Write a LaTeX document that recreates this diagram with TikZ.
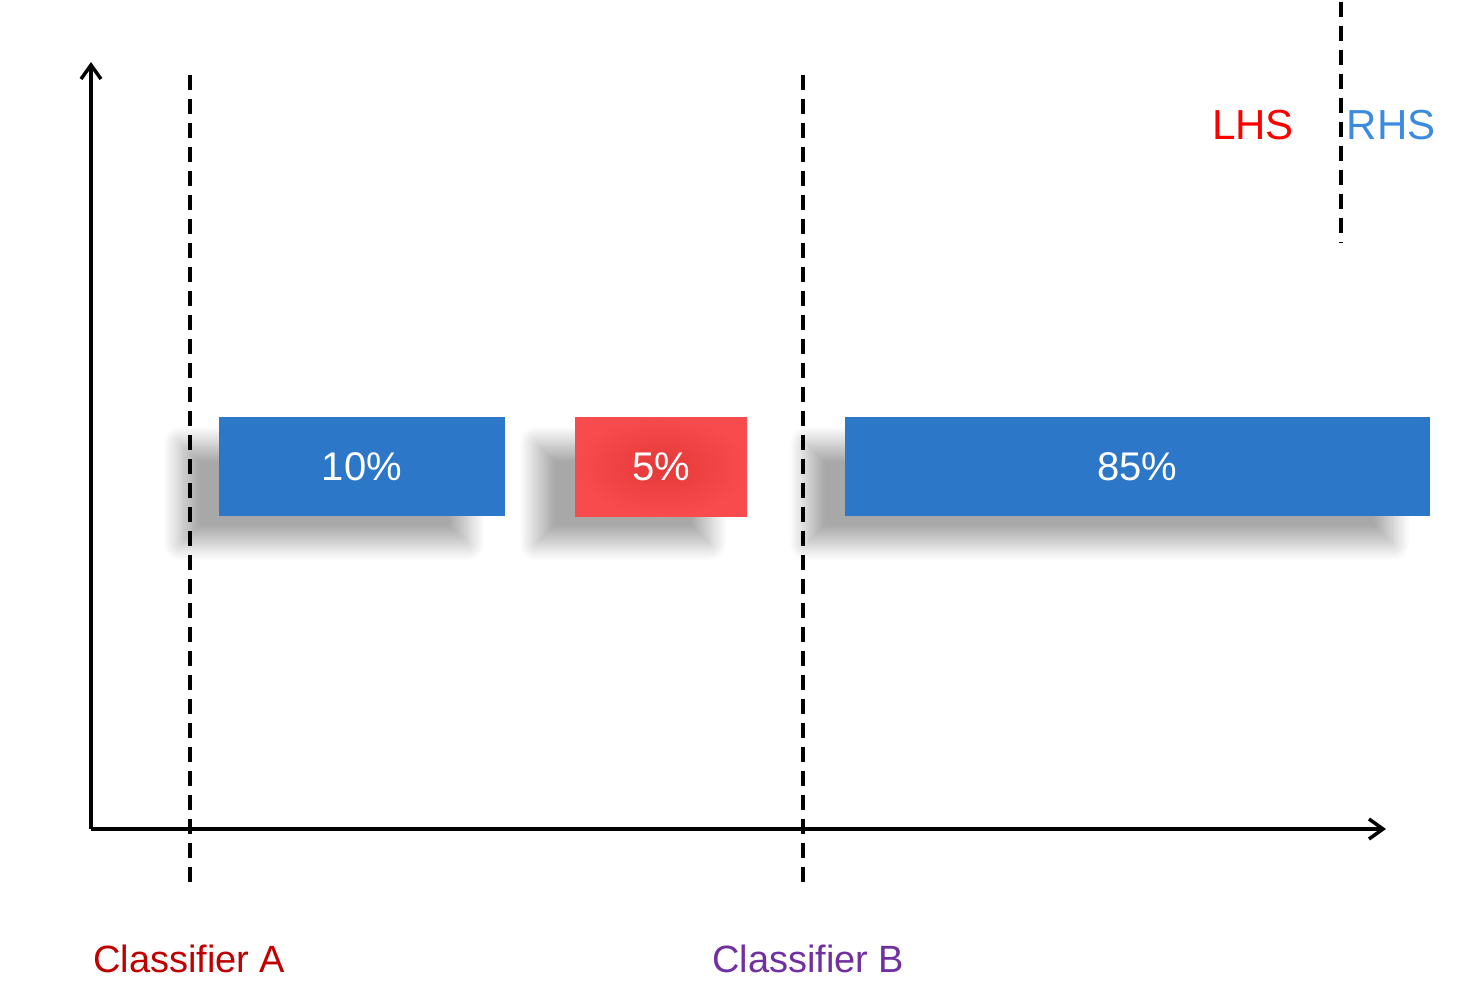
\documentclass[tikz,border=0pt]{standalone}
\usepackage{fontspec}
\setmainfont{Liberation Sans}
\usetikzlibrary{arrows.meta,shadows.blur}
\definecolor{barblue}{HTML}{2D77C9}
\definecolor{barred}{HTML}{F84B4E}
\definecolor{barreddark}{HTML}{E53838}
\definecolor{lhsred}{HTML}{FF0000}
\definecolor{rhsblue}{HTML}{3B8CE0}
\definecolor{clsa}{HTML}{C00000}
\definecolor{clsb}{HTML}{7030A0}
\tikzset{
  bar/.style={minimum height=99pt, inner sep=0pt, text=white,
    font=\fontsize{40}{48}\selectfont,
    blur shadow={shadow xshift=-38pt, shadow yshift=-27pt, shadow blur radius=18pt, shadow blur steps=16, shadow opacity=34}},
  axis/.style={line width=3.5pt, -{Straight Barb[length=14pt,width=20pt]}},
  divider/.style={line width=3.5pt, dash pattern=on 15pt off 9pt},
  toplabel/.style={font=\fontsize{42}{50}\selectfont, inner sep=0pt},
  clslabel/.style={font=\fontsize{38}{46}\selectfont, inner sep=0pt, anchor=west},
}
\begin{document}
\begin{tikzpicture}[x=1pt,y=-1pt]
\useasboundingbox (0,0) rectangle (1471,989);
% bars
\node[bar, fill=barblue, minimum width=286pt] (b10) at (362,466.5) {10\%};
\node[bar, minimum width=172pt, inner color=barreddark, outer color=barred] (b5) at (661,466.5) {5\%};
\node[bar, fill=barblue, minimum width=585pt] (b85) at (1137.5,466.5) {85\%};
% dividers
\coordinate (da1) at (190,75);  \coordinate (da2) at (190,887);
\coordinate (db1) at (803,75);  \coordinate (db2) at (803,887);
\coordinate (dc1) at (1341,2);  \coordinate (dc2) at (1341,243);
\draw[divider] (da1) -- (da2);
\draw[divider] (db1) -- (db2);
\draw[divider] (dc1) -- (dc2);
% axes
\coordinate (o) at (91,829);
\coordinate (ytop) at (91,62);
\coordinate (xend) at (1386,829);
\draw[axis] (o) -- (ytop);
\draw[axis] (o) -- (xend);
% labels
\node[toplabel, text=lhsred] (lhs) at (1253,125) {LHS};
\node[toplabel, text=rhsblue] (rhs) at (1391,125) {RHS};
\node[clslabel, text=clsa] (ca) at (93,959) {Classifier A};
\node[clslabel, text=clsb] (cb) at (712,959) {Classifier B};
\end{tikzpicture}
\end{document}
